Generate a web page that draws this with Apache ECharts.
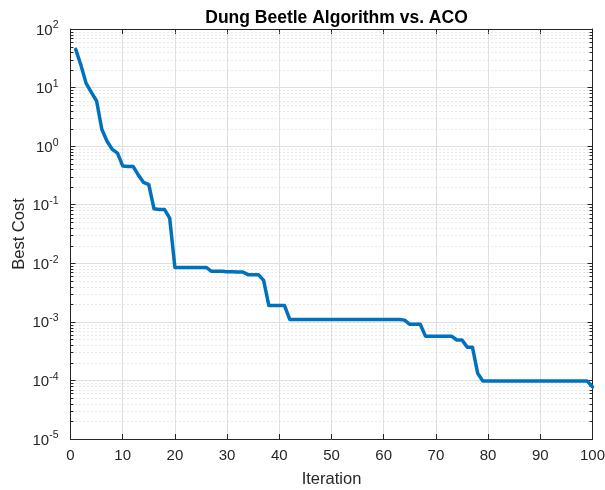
<!DOCTYPE html>
<html>
<head>
<meta charset="utf-8">
<script src="https://cdn.jsdelivr.net/npm/echarts@6/dist/echarts.min.js"></script>
<style>
  html, body { margin: 0; padding: 0; background: #fff; }
  #chart { width: 605px; height: 490px; }
</style>
</head>
<body>
<div id="chart"></div>
<script>
// Convergence history: best cost per iteration
const iterations = [
  1, 2, 3, 4, 5, 6, 7, 8, 9, 10,
  11, 12, 13, 14, 15, 16, 17, 18, 19, 20,
  21, 22, 23, 24, 25, 26, 27, 28, 29, 30,
  31, 32, 33, 34, 35, 36, 37, 38, 39, 40,
  41, 42, 43, 44, 45, 46, 47, 48, 49, 50,
  51, 52, 53, 54, 55, 56, 57, 58, 59, 60,
  61, 62, 63, 64, 65, 66, 67, 68, 69, 70,
  71, 72, 73, 74, 75, 76, 77, 78, 79, 80,
  81, 82, 83, 84, 85, 86, 87, 88, 89, 90,
  91, 92, 93, 94, 95, 96, 97, 98, 99, 100
];
const bestCost = [
  45, 24, 11.8, 8.3, 5.9, 1.94, 1.21, 0.88, 0.76, 0.46,
  0.45, 0.45, 0.32, 0.24, 0.22, 0.085, 0.083, 0.083, 0.059, 0.0085,
  0.0085, 0.0085, 0.0085, 0.0085, 0.0085, 0.0085, 0.0073, 0.0073, 0.0073, 0.0072,
  0.0072, 0.0071, 0.0071, 0.0064, 0.0064, 0.0064, 0.0051, 0.0019, 0.0019, 0.0019,
  0.0019, 0.0011, 0.0011, 0.0011, 0.0011, 0.0011, 0.0011, 0.0011, 0.0011, 0.0011,
  0.0011, 0.0011, 0.0011, 0.0011, 0.0011, 0.0011, 0.0011, 0.0011, 0.0011, 0.0011,
  0.0011, 0.0011, 0.0011, 0.00107, 0.00091, 0.00091, 0.00091, 0.00057, 0.00057, 0.00057,
  0.00057, 0.00057, 0.00057, 0.00049, 0.00049, 0.00037, 0.00037, 0.000133, 0.0000973, 0.0000973,
  0.0000973, 0.0000973, 0.0000973, 0.0000973, 0.0000973, 0.0000973, 0.0000973, 0.0000973, 0.0000973, 0.0000973,
  0.0000973, 0.0000973, 0.0000973, 0.0000973, 0.0000973, 0.0000973, 0.0000973, 0.0000973, 0.0000973, 0.0000776
];

// Axis ranges and tick settings
const xRange = [0, 100];
const xStep = 10;
const yRange = [1e-5, 1e2];
const decades = [-5, -4, -3, -2, -1, 0, 1, 2];
const minorMultipliers = [2, 3, 4, 5, 6, 7, 8, 9];

const titleText = 'Dung Beetle Algorithm vs. ACO';
const xName = 'Iteration';
const yName = 'Best Cost';

// Minor log gridline values (2..9 x 10^n)
const minorValues = [];
decades.slice(0, -1).forEach(function (e) {
  minorMultipliers.forEach(function (m) { minorValues.push(m * Math.pow(10, e)); });
});

const FONT = '"Liberation Sans", Arial, Helvetica, sans-serif';
const AXIS_COLOR = '#262626';
const GRID_MAJOR = '#dfdfdf';
const GRID_MINOR = '#d2d2d2';

const chart = echarts.init(document.getElementById('chart'), null, { renderer: 'canvas' });

const lineData = iterations.map(function (it, i) { return [it, bestCost[i]]; });
const minorData = minorValues.map(function (v) { return [xRange[0], v]; });

function powLabel(v) {
  const e = Math.round(Math.log10(v));
  return '{b|10}{e|' + e + '}';
}

const option = {
  animation: false,
  backgroundColor: '#ffffff',
  textStyle: { fontFamily: FONT },
  title: {
    text: titleText,
    left: 331.5,
    top: 4,
    textAlign: 'center',
    textStyle: { fontFamily: FONT, fontSize: 17.5, fontWeight: 'bold', color: '#000000' }
  },
  grid: {
    left: 70.5, right: 12.5, top: 29, bottom: 51,
    containLabel: false,
    outerBoundsMode: 'none'
  },
  xAxis: [
    {
      type: 'value',
      position: 'bottom',
      min: xRange[0], max: xRange[1], interval: xStep,
      name: xName,
      nameLocation: 'middle',
      nameGap: 32,
      nameMoveOverlap: false,
      nameTextStyle: { fontFamily: FONT, fontSize: 16.5, color: AXIS_COLOR },
      axisLine: { show: true, onZero: false, lineStyle: { color: AXIS_COLOR, width: 1 } },
      axisTick: { show: true, inside: true, length: 5, lineStyle: { color: AXIS_COLOR } },
      axisLabel: { fontFamily: FONT, fontSize: 15, color: AXIS_COLOR, margin: 9, showMinLabel: true, showMaxLabel: true, hideOverlap: false },
      splitLine: { show: true, lineStyle: { color: GRID_MAJOR, width: 1 } }
    },
    {
      type: 'value',
      position: 'top',
      min: xRange[0], max: xRange[1], interval: xStep,
      axisLine: { show: true, onZero: false, lineStyle: { color: AXIS_COLOR, width: 1 } },
      axisTick: { show: true, inside: true, length: 5, lineStyle: { color: AXIS_COLOR } },
      axisLabel: { show: false },
      splitLine: { show: false }
    }
  ],
  yAxis: [
    {
      type: 'log',
      logBase: 10,
      position: 'left',
      min: yRange[0], max: yRange[1],
      splitNumber: 7,
      name: yName,
      nameLocation: 'middle',
      nameGap: 43,
      nameMoveOverlap: false,
      nameRotate: 90,
      nameTextStyle: { fontFamily: FONT, fontSize: 16.5, color: AXIS_COLOR },
      axisLine: { show: true, onZero: false, lineStyle: { color: AXIS_COLOR, width: 1 } },
      axisTick: { show: true, inside: true, length: 5, lineStyle: { color: AXIS_COLOR } },
      axisLabel: {
        margin: 12,
        showMinLabel: true, showMaxLabel: true, hideOverlap: false,
        formatter: powLabel,
        rich: {
          b: { fontFamily: FONT, fontSize: 15, color: AXIS_COLOR, lineHeight: 18, verticalAlign: 'bottom' },
          e: { fontFamily: FONT, fontSize: 10.5, color: AXIS_COLOR, lineHeight: 10, verticalAlign: 'top', padding: [0, 0, 0, 0] }
        }
      },
      splitLine: { show: true, lineStyle: { color: GRID_MAJOR, width: 1 } }
    },
    {
      type: 'log',
      logBase: 10,
      position: 'right',
      min: yRange[0], max: yRange[1],
      splitNumber: 7,
      axisLine: { show: true, onZero: false, lineStyle: { color: AXIS_COLOR, width: 1 } },
      axisTick: { show: true, inside: true, length: 5, lineStyle: { color: AXIS_COLOR } },
      axisLabel: { show: false },
      splitLine: { show: false }
    }
  ],
  series: [
    {
      // minor log gridlines and minor ticks on both sides
      type: 'custom',
      xAxisIndex: 0,
      yAxisIndex: 0,
      z: 1,
      silent: true,
      clip: true,
      data: minorData,
      encode: { x: 0, y: 1 },
      renderItem: function (params, api) {
        const v = api.value(1);
        const p0 = api.coord([xRange[0], v]);
        const p1 = api.coord([xRange[1], v]);
        const y = Math.round(p0[1]) + 0.5;
        return {
          type: 'group',
          children: [
            {
              type: 'line',
              shape: { x1: p0[0] + 1, y1: y, x2: p1[0] - 1, y2: y },
              style: { stroke: GRID_MINOR, lineWidth: 1, lineDash: [1, 3] }
            },
            {
              type: 'line',
              shape: { x1: p0[0], y1: y, x2: p0[0] + 3, y2: y },
              style: { stroke: AXIS_COLOR, lineWidth: 1 }
            },
            {
              type: 'line',
              shape: { x1: p1[0] - 3, y1: y, x2: p1[0], y2: y },
              style: { stroke: AXIS_COLOR, lineWidth: 1 }
            }
          ]
        };
      }
    },
    {
      name: yName,
      type: 'line',
      xAxisIndex: 0,
      yAxisIndex: 0,
      z: 5,
      data: lineData,
      symbol: 'none',
      showSymbol: false,
      clip: true,
      lineStyle: { color: '#0072BD', width: 3.5, join: 'round', cap: 'round' }
    }
  ]
};

chart.setOption(option);
</script>
</body>
</html>
